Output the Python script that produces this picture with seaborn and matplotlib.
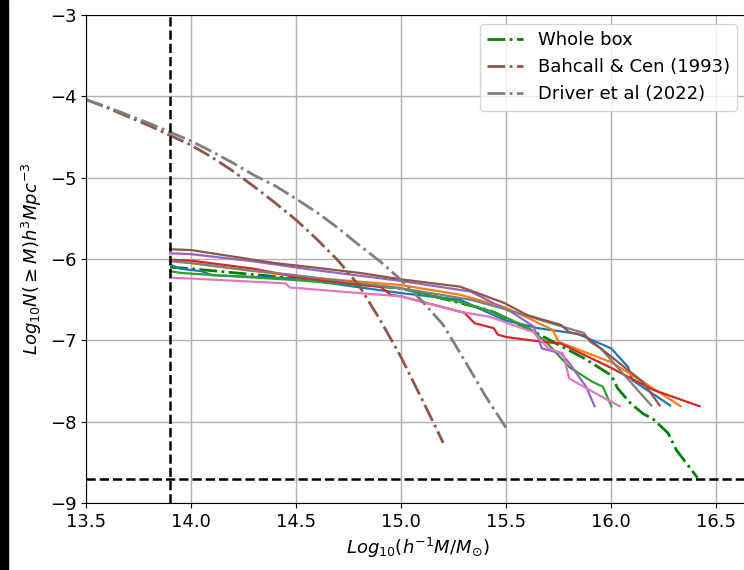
import matplotlib
matplotlib.use("Agg")
import matplotlib.pyplot as plt
from matplotlib.patches import Rectangle
import seaborn as sns

# ---- data ----
bahcall_x = [13.5, 13.6, 13.7, 13.8, 13.9, 14.0, 14.1, 14.2, 14.3, 14.4, 14.5, 14.6, 14.7, 14.8, 14.9, 15.0, 15.1, 15.2]
bahcall_y = [-4.04, -4.14, -4.25, -4.36, -4.48, -4.60, -4.75, -4.92, -5.11, -5.31, -5.52, -5.76, -6.02, -6.33, -6.75, -7.21, -7.73, -8.26]

driver_x = [13.5, 13.6, 13.7, 13.8, 13.9, 14.0, 14.1, 14.2, 14.3, 14.4, 14.5, 14.6, 14.7, 14.8, 14.9, 15.0, 15.1, 15.2, 15.3, 15.4, 15.5]
driver_y = [-4.04, -4.13, -4.23, -4.33, -4.44, -4.55, -4.68, -4.82, -4.97, -5.10, -5.26, -5.43, -5.62, -5.83, -6.03, -6.26, -6.52, -6.81, -7.24, -7.68, -8.08]

whole_x = [13.9, 14.0, 14.5, 15.0, 15.42, 15.6, 15.87, 16.0, 16.03, 16.09, 16.15, 16.2, 16.27, 16.31, 16.41]
whole_y = [-6.10, -6.12, -6.24, -6.36, -6.63, -6.85, -7.22, -7.43, -7.59, -7.77, -7.90, -7.97, -8.14, -8.35, -8.69]

blue_x = [13.9, 13.95, 14.05, 14.1, 14.5, 15.0, 15.28, 15.49, 15.65, 15.84, 16.0, 16.08, 16.1, 16.28]
blue_y = [-6.07, -6.12, -6.15, -6.20, -6.24, -6.42, -6.50, -6.75, -6.85, -6.92, -7.10, -7.33, -7.49, -7.80]

orange_x = [13.9, 14.0, 14.3, 14.57, 15.0, 15.28, 15.49, 15.6, 15.72, 15.75, 16.0, 16.15, 16.33]
orange_y = [-6.03, -6.05, -6.15, -6.23, -6.32, -6.44, -6.59, -6.72, -6.87, -7.02, -7.27, -7.51, -7.81]

green_x = [13.9, 13.95, 14.0, 14.5, 15.0, 15.28, 15.44, 15.6, 15.69, 15.8, 15.91, 15.96, 16.0]
green_y = [-6.15, -6.17, -6.18, -6.26, -6.36, -6.53, -6.65, -6.84, -7.02, -7.33, -7.51, -7.57, -7.81]

red_x = [13.9, 14.0, 14.3, 14.5, 14.75, 14.9, 14.95, 15.0, 15.30, 15.35, 15.44, 15.46, 15.5, 15.68, 15.76, 16.0, 16.2, 16.42]
red_y = [-6.01, -6.02, -6.12, -6.22, -6.30, -6.34, -6.44, -6.46, -6.66, -6.79, -6.85, -6.93, -6.96, -7.02, -7.04, -7.34, -7.61, -7.81]

purple_x = [13.9, 14.0, 14.3, 14.57, 15.0, 15.33, 15.53, 15.63, 15.67, 15.76, 15.8, 15.88, 15.92]
purple_y = [-5.93, -5.94, -6.03, -6.13, -6.27, -6.40, -6.66, -6.83, -7.10, -7.16, -7.28, -7.57, -7.81]

brown_x = [13.9, 14.0, 14.2, 14.4, 14.57, 14.8, 15.0, 15.28, 15.49, 15.6, 15.76, 15.80, 15.87, 15.96, 16.15, 16.23]
brown_y = [-5.88, -5.89, -5.97, -6.05, -6.10, -6.17, -6.25, -6.34, -6.54, -6.69, -6.81, -6.90, -6.94, -7.12, -7.51, -7.80]

pink_x = [13.9, 14.0, 14.45, 14.47, 15.0, 15.28, 15.42, 15.63, 15.7, 15.77, 15.8, 15.98, 16.04]
pink_y = [-6.23, -6.24, -6.30, -6.35, -6.46, -6.65, -6.71, -6.90, -7.10, -7.16, -7.47, -7.73, -7.81]

gray_x = [13.9, 14.0, 14.25, 14.5, 15.0, 15.33, 15.5, 15.7, 15.87, 15.9, 15.95, 16.19]
gray_y = [-6.02, -6.05, -6.13, -6.20, -6.36, -6.50, -6.62, -6.78, -6.91, -7.02, -7.10, -7.80]

mass_cut = 13.9
density_floor = -8.7
x_ticks = [13.5, 14.0, 14.5, 15.0, 15.5, 16.0, 16.5]
y_ticks = [-9, -8, -7, -6, -5, -4, -3]

# ---- figure ----
plt.rcParams['font.size'] = 13
fig = plt.figure(figsize=(7.44, 5.70), dpi=100)
ax = fig.add_axes([86/744, 67/570, 664/744, 488/570])

sns.lineplot(x=whole_x, y=whole_y, color='green', lw=2, linestyle='-.',
             sort=False, estimator=None, ax=ax, label='Whole box')

solid = [
    (blue_x, blue_y, 'C0'), (orange_x, orange_y, 'C1'), (green_x, green_y, 'C2'),
    (red_x, red_y, 'C3'), (purple_x, purple_y, 'C4'), (pink_x, pink_y, 'C6'),
    (gray_x, gray_y, 'C7'), (brown_x, brown_y, 'C5'),
]
for xs, ys, c in solid:
    sns.lineplot(x=xs, y=ys, color=c, lw=1.6, sort=False, estimator=None, ax=ax)

sns.lineplot(x=bahcall_x, y=bahcall_y, color='C5', lw=2, linestyle='-.',
             sort=False, estimator=None, ax=ax, label='Bahcall & Cen (1993)')
sns.lineplot(x=driver_x, y=driver_y, color='C7', lw=2, linestyle='-.',
             sort=False, estimator=None, ax=ax, label='Driver et al (2022)')

ax.axvline(mass_cut, color='k', ls='--', lw=1.8)
ax.axhline(density_floor, color='k', ls='--', lw=1.8)

ax.set_xlim(13.5, 16.66)
ax.set_ylim(-9, -3)
ax.set_xticks(x_ticks)
ax.set_yticks(y_ticks)
ax.grid(True, color='#b0b0b0', lw=1)
ax.set_axisbelow(True)
ax.set_xlabel(r'$Log_{10}(h^{-1}M/M_{\odot})$')
ax.set_ylabel(r'$Log_{10}N(\geq M)h^3Mpc^{-3}$')

ax.legend(loc='upper right', bbox_to_anchor=(746/744, 555/570),
          bbox_transform=fig.transFigure, fontsize=13)

fig.patches.append(Rectangle((0, 0), 8/744, 1, transform=fig.transFigure,
                             color='black', zorder=10))

fig.savefig('out.png', dpi=100)
